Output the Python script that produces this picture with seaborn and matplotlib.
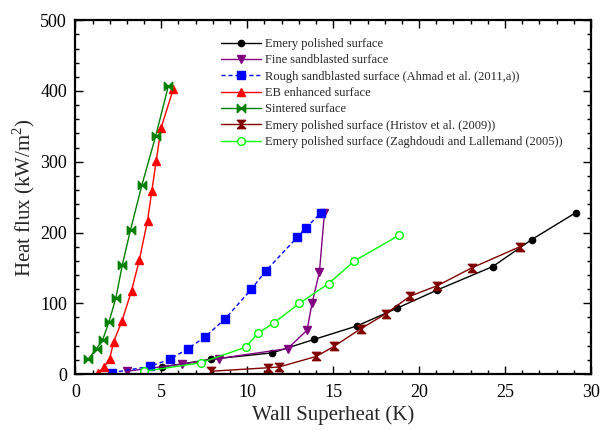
import matplotlib
matplotlib.use("Agg")
import matplotlib.pyplot as plt
from matplotlib.ticker import MultipleLocator
import seaborn as sns

# Wall superheat (K) and heat flux (kW/m^2) for each surface
emery_x = [5.05, 7.9, 11.45, 13.89, 16.38, 18.71, 21.07, 24.29, 26.55, 29.11]
emery_y = [10, 21, 30, 49, 68, 93, 119, 152, 190, 228]

fine_x = [3.0, 6.18, 8.33, 12.35, 13.48, 13.77, 14.2, 14.49]
fine_y = [4, 14, 22, 36, 62, 100, 144, 227]

rough_x = [2.13, 4.35, 5.51, 6.55, 7.52, 8.71, 10.24, 11.09, 12.9, 13.42, 14.27]
rough_y = [2, 11, 21, 36, 52, 78, 120, 146, 193, 207, 227]

eb_x = [1.29, 1.67, 2.0, 2.23, 2.71, 3.27, 3.72, 4.20, 4.45, 4.70, 4.99, 5.70]
eb_y = [1, 10, 22, 46, 75, 118, 161, 217, 259, 301, 348, 403]

sint_x = [0.74, 1.23, 1.58, 1.96, 2.36, 2.73, 3.21, 3.87, 4.68, 5.41]
sint_y = [21, 36, 48, 74, 108, 154, 204, 267, 337, 407]

hristov_x = [7.88, 11.22, 11.84, 14.02, 15.04, 16.6, 18.05, 19.47, 21.07, 23.06, 25.87]
hristov_y = [4, 9, 10, 25, 39, 64, 85, 110, 125, 150, 180]

zagh_x = [4.02, 7.3, 9.91, 10.64, 11.53, 13.04, 14.74, 16.24, 18.83]
zagh_y = [4, 16, 38, 58, 72, 100, 128, 160, 196]

labels = [
    "Emery polished surface",
    "Fine sandblasted surface",
    "Rough sandblasted surface (Ahmad et al. (2011,a))",
    "EB enhanced surface",
    "Sintered surface",
    "Emery polished surface (Hristov et al. (2009))",
    "Emery polished surface (Zaghdoudi and Lallemand (2005))",
]

sns.set_style("ticks")
plt.rcParams["font.family"] = ["Liberation Serif", "DejaVu Serif"]
plt.rcParams["mathtext.fontset"] = "custom"
plt.rcParams["mathtext.rm"] = "Liberation Serif"

# bow-tie markers
bowtie_h = [(-1, -1), (-1, 1), (1, -1), (1, 1), (-1, -1)]
bowtie_v = [(-1, -1), (1, -1), (-1, 1), (1, 1), (-1, -1)]

series = [
    (emery_x, emery_y, "black", "o", "-", 4.5, "black"),
    (fine_x, fine_y, "#800080", "v", "-", 6, "#800080"),
    (rough_x, rough_y, "#0000ff", "s", (0, (3, 2)), 5.5, "#0000ff"),
    (eb_x, eb_y, "#ff0000", "^", "-", 6, "#ff0000"),
    (sint_x, sint_y, "#008000", bowtie_h, "-", 6, "#008000"),
    (hristov_x, hristov_y, "#800000", bowtie_v, "-", 6, "#800000"),
    (zagh_x, zagh_y, "#00ff00", "o", "-", 5.5, "white"),
]

fig = plt.figure(figsize=(6.03, 4.30), dpi=100)
ax = fig.add_axes([0.125, 0.130, 0.855, 0.823])

for (x, y, c, m, ls, ms, fc), lab in zip(series, labels):
    sns.lineplot(x=x, y=y, ax=ax, sort=False, color=c, marker=m,
                 linestyle=ls, linewidth=1.0, markersize=ms,
                 markerfacecolor=fc, markeredgecolor=c,
                 markeredgewidth=1.0, label=lab)

ax.set_xlim(0, 30)
ax.set_ylim(0, 500)
ax.xaxis.set_major_locator(MultipleLocator(5))
ax.xaxis.set_minor_locator(MultipleLocator(1))
ax.yaxis.set_major_locator(MultipleLocator(100))
ax.yaxis.set_minor_locator(MultipleLocator(20))
ax.tick_params(which="both", direction="in", top=True, right=True,
               labelsize=13, width=1.0, colors="black")
ax.tick_params(which="major", length=6)
ax.tick_params(which="minor", length=3)
ax.tick_params(axis="x", which="major", pad=7)
ax.tick_params(axis="y", which="major", pad=6)
for s in ax.spines.values():
    s.set_linewidth(1.6)
    s.set_color("black")

ax.set_xlabel("Wall Superheat (K)", fontsize=15, labelpad=3)
ax.set_ylabel("Heat flux (kW/m$^2$)", fontsize=15, labelpad=2)

ax.legend(loc="upper left", bbox_to_anchor=(0.352, 0.932),
          bbox_transform=fig.transFigure, frameon=False, fontsize=9,
          handlelength=3.2, handletextpad=0.3, labelspacing=0.35,
          borderpad=0.2)

fig.savefig("out.png", dpi=100)
